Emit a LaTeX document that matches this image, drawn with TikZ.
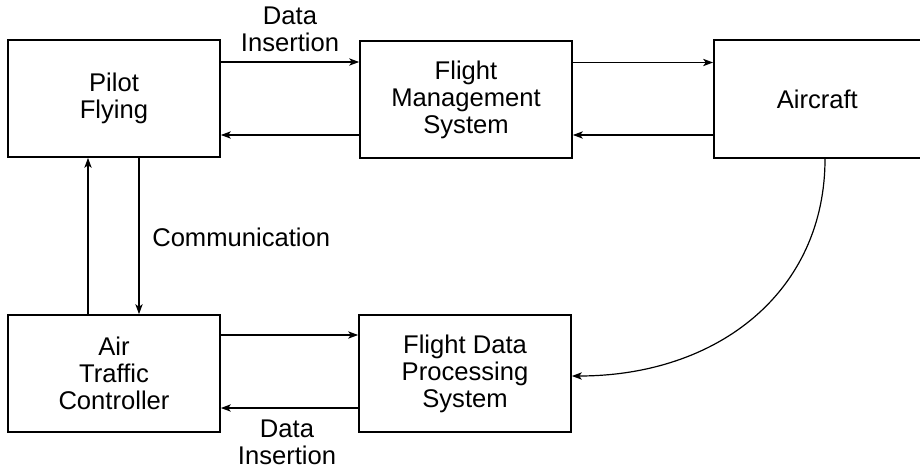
\documentclass[tikz,border=0pt]{standalone}
\usepackage{fontspec}
\setmainfont{Liberation Sans}
\usetikzlibrary{arrows.meta}
\begin{document}
\begin{tikzpicture}[x=0.75pt,y=-0.75pt,
  box/.style={draw,line width=1.3pt,rectangle,minimum width=159pt,minimum height=87.75pt,align=center,inner sep=0pt,font=\fontsize{19.2}{20.3}\selectfont},
  arr/.style={line width=0.9pt,-{Stealth[length=7.5pt,width=5.5pt,inset=2pt]}},
  lbl/.style={align=center,inner sep=0pt,font=\fontsize{19.2}{20.3}\selectfont}]
\useasboundingbox (0,0) rectangle (920,471);
\node[box] (PF) at (114,98.5) {Pilot\\Flying};
\node[box] (FMS) at (466,99.5) {Flight\\Management\\System};
\node[box,minimum width=170pt,minimum height=88.5pt] (AC) at (827.3,99) {Aircraft\hspace*{15pt}};
\node[box] (ATC) at (114,373.5) {Air\\Traffic\\Controller};
\node[box] (FDPS) at (465,373.5) {Flight Data\\Processing\\System};
\draw[arr] (PF.east |- 0,62) -- (FMS.west |- 0,62);
\draw[arr] (FMS.west |- 0,135) -- (PF.east |- 0,135);
\draw[arr] (FMS.east |- 0,62.5) -- (AC.west |- 0,62.5);
\draw[arr] (AC.west |- 0,135) -- (FMS.east |- 0,135);
\draw[arr] (ATC.north -| 88,0) -- (PF.south -| 88,0);
\draw[arr] (PF.south -| 139,0) -- (ATC.north -| 139,0);
\draw[arr] (ATC.east |- 0,335) -- (FDPS.west |- 0,335);
\draw[arr] (FDPS.west |- 0,408) -- (ATC.east |- 0,408);
\draw[arr] (AC.south -| 825,0) .. controls (825,290) and (720,376) .. (FDPS.east |- 0,376);
\node[lbl] (l1) at (290,29) {Data\\Insertion};
\node[lbl,anchor=west] (l2) at (152,237) {Communication};
\node[lbl] (l3) at (287,442) {Data\\Insertion};
\end{tikzpicture}
\end{document}
